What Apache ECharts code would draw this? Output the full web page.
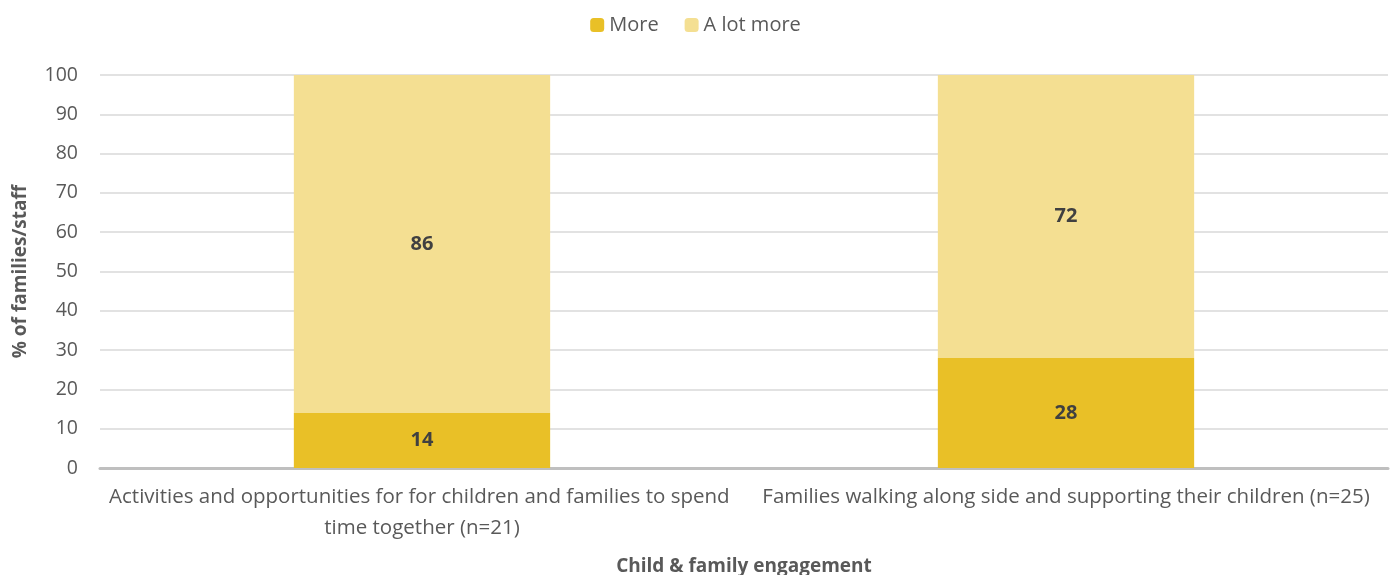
<!DOCTYPE html>
<html><head><meta charset="utf-8">
<script src="https://cdn.jsdelivr.net/npm/echarts@6/dist/echarts.min.js"></script>
<style>html,body{margin:0;padding:0;background:#fff}#c{width:1391px;height:575px}</style>
</head><body><div id="c"></div>
<script>
const categories = [
  "Activities and opportunities for for children and families to spend time together (n=21)",
  "Families walking along side and supporting their children (n=25)"
];
const moreValues = [14, 28];
const aLotMoreValues = [86, 72];
const seriesNames = ["More", "A lot more"];
const yTicks = {min: 0, max: 100, interval: 10};

const font = "'Open Sans', sans-serif";
const chart = echarts.init(document.getElementById('c'));
const labelStyle = {show: true, position: 'inside', color: '#404040', fontWeight: 'bold', fontSize: 20, fontFamily: font};
chart.setOption({
  animation: false,
  textStyle: {fontFamily: font},
  legend: {
    top: 10, left: 'center', itemWidth: 14, itemHeight: 14, itemGap: 26,
    textStyle: {color: '#595959', fontSize: 20, fontFamily: font},
    data: seriesNames
  },
  grid: {left: 100, right: 3, top: 75, bottom: 107, containLabel: false, outerBoundsMode: 'none'},
  xAxis: {
    type: 'category', data: categories,
    axisTick: {show: false},
    axisLine: {lineStyle: {color: '#BFBFBF', width: 3}},
    axisLabel: {color: '#595959', fontSize: 20.5, fontFamily: font, interval: 0, width: 645, overflow: 'break', lineHeight: 31, margin: 14},
    name: 'Child & family engagement', nameLocation: 'middle', nameGap: 89,
    nameTextStyle: {color: '#595959', fontWeight: 'bold', fontSize: 19, fontFamily: font}
  },
  yAxis: {
    type: 'value', min: yTicks.min, max: yTicks.max, interval: yTicks.interval,
    axisLine: {show: false}, axisTick: {show: false},
    splitLine: {lineStyle: {color: '#D9D9D9', width: 1.5}},
    axisLabel: {color: '#595959', fontSize: 19.5, fontFamily: font, margin: 22},
    name: '% of families/staff', nameLocation: 'middle', nameGap: 70, nameRotate: 90,
    nameTextStyle: {color: '#595959', fontWeight: 'bold', fontSize: 19, fontFamily: font}
  },
  series: [
    {name: seriesNames[0], type: 'bar', stack: 's', data: moreValues, barWidth: '39.8%',
     itemStyle: {color: '#E9C027'}, label: labelStyle},
    {name: seriesNames[1], type: 'bar', stack: 's', data: aLotMoreValues,
     itemStyle: {color: '#F4DF92'}, label: labelStyle}
  ]
});
</script></body></html>
